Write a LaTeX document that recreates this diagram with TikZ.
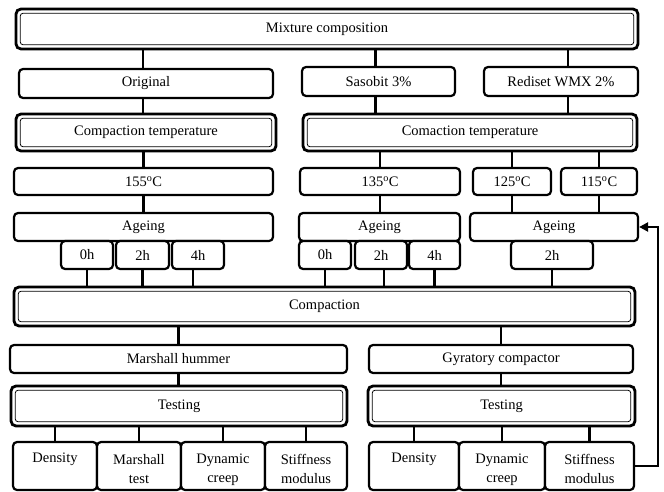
\documentclass[tikz,border=0pt]{standalone}
\usepackage{fontspec}
\setmainfont{Liberation Serif}
\usetikzlibrary{arrows.meta}
\newcommand{\bx}[7][]{\node[box,#1,minimum width={#4-#2},minimum height={#5-#3}] (#7) at ({(#2+#4)/2},{(#3+#5)/2}) {#6};}
\newcommand{\dg}{\textsuperscript{o}C}
\tikzset{
  box/.style={draw, line width=2.2, rounded corners=4, inner sep=0, align=center, fill=white,
    font=\fontsize{14.5}{19}\selectfont},
  dbl/.style={line width=2.8, rounded corners=5,
    path picture={\draw[line width=0.8, rounded corners=3]
      ([shift={(4.2pt,-4.2pt)}]path picture bounding box.north west) rectangle
      ([shift={(-4.2pt,4.2pt)}]path picture bounding box.south east);}},
  conn/.style={line width=2.2},
  lowtext/.style={text depth=0pt, yshift=0pt},
}
\begin{document}
\begin{tikzpicture}[x=1pt,y=-1pt]
\useasboundingbox (0,0) rectangle (664,492);
% boxes
\bx[dbl]{16}{9}{638}{49}{Mixture composition}{mix}
\bx{19}{69}{273}{98}{Original}{orig}
\bx{302}{67}{455}{96}{Sasobit 3\%}{sas}
\bx{484}{67}{638}{96}{Rediset WMX 2\%}{red}
\bx[dbl]{16}{114}{276}{151}{Compaction temperature}{ct1}
\bx[dbl]{303}{114}{637}{151}{Comaction temperature}{ct2}
\bx{14}{168}{273}{195}{155\dg}{t155}
\bx{300}{168}{460}{195}{135\dg}{t135}
\bx{473}{168}{551}{195}{125\dg}{t125}
\bx{561}{168}{637}{195}{115\dg}{t115}
\bx{14}{213}{273}{241}{Ageing}{ag1}
\bx{299}{213}{460}{241}{Ageing}{ag2}
\bx{470}{213}{638}{241}{Ageing}{ag3}
\bx{61}{241}{113}{269}{0h}{h10}
\bx{116}{241}{169}{269}{2h}{h12}
\bx{172}{241}{224}{269}{4h}{h14}
\bx{299}{241}{351}{269}{0h}{h20}
\bx{355}{241}{407}{269}{2h}{h22}
\bx{409}{241}{460}{269}{4h}{h24}
\bx{511}{241}{593}{269}{2h}{h32}
\bx[dbl]{14}{287}{635}{326}{Compaction}{comp}
\bx{10}{345}{347}{373}{Marshall hummer}{mh}
\bx{369}{345}{633}{373}{Gyratory compactor}{gc}
\bx[dbl]{11}{386}{347}{426}{Testing}{te1}
\bx[dbl]{368}{386}{635}{426}{Testing}{te2}
\bx{13}{442}{97}{490}{\rule{0pt}{17pt}Density\\\strut}{d1}
\bx{97}{442}{181}{490}{\rule{0pt}{17pt}Marshall\\test}{m1}
\bx{181}{442}{265}{490}{\rule{0pt}{17pt}Dynamic\\creep}{c1}
\bx{265}{442}{347}{490}{\rule{0pt}{17pt}Stiffness\\modulus}{s1}
\bx{369}{442}{459}{490}{\rule{0pt}{17pt}Density\\\strut}{d2}
\bx{459}{442}{545}{490}{\rule{0pt}{17pt}Dynamic\\creep}{c2}
\bx{545}{442}{634}{490}{\rule{0pt}{17pt}Stiffness\\modulus}{s2}
% shifted connector points
\coordinate (p1) at ([xshift=-3]orig.north);
\coordinate (p2) at ([xshift=-3]sas.north);
\coordinate (p3) at ([xshift=7]red.north);
\coordinate (p4) at ([xshift=-5]h14.south);
\coordinate (p5) at ([xshift=3]h22.south);
% connectors
\draw[conn] (p1) -- (p1 |- mix.south);
\draw[conn] (p2) -- (p2 |- mix.south);
\draw[conn] (p3) -- (p3 |- mix.south);
\draw[conn] ([xshift=-3]orig.south) -- ([xshift=-3]orig.south |- ct1.north);
\draw[conn] ([xshift=-3]sas.south) -- ([xshift=-3]sas.south |- ct2.north);
\draw[conn] ([xshift=7]red.south) -- ([xshift=7]red.south |- ct2.north);
\draw[conn] (t155.north) -- (t155.north |- ct1.south);
\draw[conn] (t135.north) -- (t135.north |- ct2.south);
\draw[conn] (t125.north) -- (t125.north |- ct2.south);
\draw[conn] (t115.north) -- (t115.north |- ct2.south);
\draw[conn] (t155.south) -- (t155.south |- ag1.north);
\draw[conn] (t135.south) -- (t135.south |- ag2.north);
\draw[conn] (t125.south) -- (t125.south |- ag3.north);
\draw[conn] (t115.south) -- (t115.south |- ag3.north);
\draw[conn] (h10.south) -- (h10.south |- comp.north);
\draw[conn] (h12.south) -- (h12.south |- comp.north);
\draw[conn] (p4) -- (p4 |- comp.north);
\draw[conn] (h20.south) -- (h20.south |- comp.north);
\draw[conn] (p5) -- (p5 |- comp.north);
\draw[conn] (h24.south) -- (h24.south |- comp.north);
\draw[conn] (h32.south) -- (h32.south |- comp.north);
\draw[conn] (mh.north) -- (mh.north |- comp.south);
\draw[conn] (gc.north) -- (gc.north |- comp.south);
\draw[conn] (mh.south) -- (mh.south |- te1.north);
\draw[conn] (gc.south) -- (gc.south |- te2.north);
\draw[conn] (d1.north) -- (d1.north |- te1.south);
\draw[conn] (m1.north) -- (m1.north |- te1.south);
\draw[conn] (c1.north) -- (c1.north |- te1.south);
\draw[conn] (s1.north) -- (s1.north |- te1.south);
\draw[conn] (d2.north) -- (d2.north |- te2.south);
\draw[conn] (c2.north) -- (c2.north |- te2.south);
\draw[conn] (s2.north) -- (s2.north |- te2.south);
% feedback arrow
\coordinate (fb) at (658,0);
\draw[conn, -{Triangle[length=9pt,width=9pt]}] (s2.east) -- (s2.east -| fb) -- (ag3.east -| fb) -- (ag3.east);
\end{tikzpicture}
\end{document}
